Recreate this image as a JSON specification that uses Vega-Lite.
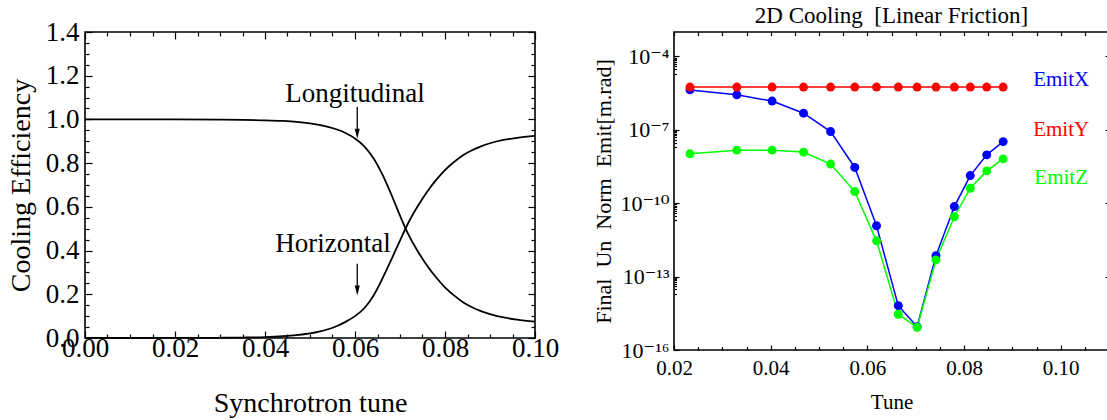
{
  "$schema": "https://vega.github.io/schema/vega-lite/v6.json",
  "background": "white",
  "padding": {"left": 6, "top": 4, "right": 0, "bottom": 0},
  "bounds": "flush",
  "spacing": 139,
  "config": {
    "font": "Liberation Serif",
    "view": {"stroke": "black", "strokeWidth": 1.6},
    "axis": {"grid": false, "domain": false, "tickColor": "black", "tickWidth": 1.2, "labelColor": "black", "titleColor": "black", "labelFont": "Liberation Serif", "titleFont": "Liberation Serif", "titleFontWeight": "normal", "labelOverlap": false, "labelFlush": false},
    "title": {"font": "Liberation Serif", "fontWeight": "normal", "color": "black"},
    "text": {"font": "Liberation Serif"}
  },
  "hconcat": [
    {
      "width": 450,
      "height": 306,
      "resolve": {"axis": {"x": "independent", "y": "independent"}},
      "layer": [
        {
          "data": {"values": [
            {"tune": 0.0, "value": 0.0, "curve": "Horizontal"},
            {"tune": 0.01, "value": 0.0, "curve": "Horizontal"},
            {"tune": 0.02, "value": 0.0002, "curve": "Horizontal"},
            {"tune": 0.03, "value": 0.001, "curve": "Horizontal"},
            {"tune": 0.035, "value": 0.002, "curve": "Horizontal"},
            {"tune": 0.04, "value": 0.004, "curve": "Horizontal"},
            {"tune": 0.044, "value": 0.008, "curve": "Horizontal"},
            {"tune": 0.047, "value": 0.013, "curve": "Horizontal"},
            {"tune": 0.05, "value": 0.021, "curve": "Horizontal"},
            {"tune": 0.052, "value": 0.029, "curve": "Horizontal"},
            {"tune": 0.054, "value": 0.04, "curve": "Horizontal"},
            {"tune": 0.056, "value": 0.055, "curve": "Horizontal"},
            {"tune": 0.058, "value": 0.075, "curve": "Horizontal"},
            {"tune": 0.06, "value": 0.1, "curve": "Horizontal"},
            {"tune": 0.062, "value": 0.135, "curve": "Horizontal"},
            {"tune": 0.064, "value": 0.19, "curve": "Horizontal"},
            {"tune": 0.066, "value": 0.268, "curve": "Horizontal"},
            {"tune": 0.068, "value": 0.355, "curve": "Horizontal"},
            {"tune": 0.07, "value": 0.446, "curve": "Horizontal"},
            {"tune": 0.072, "value": 0.533, "curve": "Horizontal"},
            {"tune": 0.074, "value": 0.605, "curve": "Horizontal"},
            {"tune": 0.076, "value": 0.668, "curve": "Horizontal"},
            {"tune": 0.078, "value": 0.722, "curve": "Horizontal"},
            {"tune": 0.08, "value": 0.768, "curve": "Horizontal"},
            {"tune": 0.082, "value": 0.805, "curve": "Horizontal"},
            {"tune": 0.084, "value": 0.836, "curve": "Horizontal"},
            {"tune": 0.086, "value": 0.859, "curve": "Horizontal"},
            {"tune": 0.088, "value": 0.877, "curve": "Horizontal"},
            {"tune": 0.09, "value": 0.891, "curve": "Horizontal"},
            {"tune": 0.093, "value": 0.906, "curve": "Horizontal"},
            {"tune": 0.096, "value": 0.916, "curve": "Horizontal"},
            {"tune": 0.1, "value": 0.925, "curve": "Horizontal"},
            {"tune": 0.0, "value": 1.0, "curve": "Longitudinal"},
            {"tune": 0.01, "value": 1.0, "curve": "Longitudinal"},
            {"tune": 0.02, "value": 0.9998, "curve": "Longitudinal"},
            {"tune": 0.03, "value": 0.999, "curve": "Longitudinal"},
            {"tune": 0.035, "value": 0.998, "curve": "Longitudinal"},
            {"tune": 0.04, "value": 0.996, "curve": "Longitudinal"},
            {"tune": 0.044, "value": 0.993, "curve": "Longitudinal"},
            {"tune": 0.047, "value": 0.989, "curve": "Longitudinal"},
            {"tune": 0.05, "value": 0.982, "curve": "Longitudinal"},
            {"tune": 0.052, "value": 0.975, "curve": "Longitudinal"},
            {"tune": 0.054, "value": 0.966, "curve": "Longitudinal"},
            {"tune": 0.056, "value": 0.954, "curve": "Longitudinal"},
            {"tune": 0.058, "value": 0.937, "curve": "Longitudinal"},
            {"tune": 0.06, "value": 0.913, "curve": "Longitudinal"},
            {"tune": 0.062, "value": 0.878, "curve": "Longitudinal"},
            {"tune": 0.064, "value": 0.826, "curve": "Longitudinal"},
            {"tune": 0.066, "value": 0.752, "curve": "Longitudinal"},
            {"tune": 0.068, "value": 0.66, "curve": "Longitudinal"},
            {"tune": 0.07, "value": 0.56, "curve": "Longitudinal"},
            {"tune": 0.072, "value": 0.468, "curve": "Longitudinal"},
            {"tune": 0.074, "value": 0.395, "curve": "Longitudinal"},
            {"tune": 0.076, "value": 0.332, "curve": "Longitudinal"},
            {"tune": 0.078, "value": 0.278, "curve": "Longitudinal"},
            {"tune": 0.08, "value": 0.232, "curve": "Longitudinal"},
            {"tune": 0.082, "value": 0.195, "curve": "Longitudinal"},
            {"tune": 0.084, "value": 0.164, "curve": "Longitudinal"},
            {"tune": 0.086, "value": 0.141, "curve": "Longitudinal"},
            {"tune": 0.088, "value": 0.123, "curve": "Longitudinal"},
            {"tune": 0.09, "value": 0.109, "curve": "Longitudinal"},
            {"tune": 0.093, "value": 0.094, "curve": "Longitudinal"},
            {"tune": 0.096, "value": 0.084, "curve": "Longitudinal"},
            {"tune": 0.1, "value": 0.075, "curve": "Longitudinal"}
          ]},
          "mark": {"type": "line", "color": "black", "strokeWidth": 1.8, "interpolate": "monotone"},
          "encoding": {
            "x": {"field": "tune", "type": "quantitative", "scale": {"domain": [0, 0.1], "nice": false, "zero": false},
              "axis": {"orient": "bottom", "values": [0, 0.02, 0.04, 0.06, 0.08, 0.1], "format": ".2f", "labelFontSize": 27, "tickSize": -7, "labelPadding": 4.5, "title": "Synchrotron tune", "titleFontSize": 28, "titlePadding": 28}},
            "y": {"field": "value", "type": "quantitative", "scale": {"domain": [0, 1.4], "nice": false},
              "axis": {"orient": "left", "values": [0, 0.2, 0.4, 0.6, 0.8, 1.0, 1.2, 1.4], "format": ".1f", "labelFontSize": 27, "tickSize": -7, "labelPadding": 13, "title": "Cooling Efficiency", "titleFontSize": 28, "titlePadding": 10}},
            "detail": {"field": "curve", "type": "nominal"}
          }
        },
        {
          "data": {"values": [
            {"tune": 0.06, "value": 1.079, "label": "Longitudinal"},
            {"tune": 0.0551, "value": 0.393, "label": "Horizontal"}
          ]},
          "mark": {"type": "text", "fontSize": 27, "align": "center", "baseline": "alphabetic", "color": "black"},
          "encoding": {
            "x": {"field": "tune", "type": "quantitative", "scale": {"domain": [0, 0.1], "nice": false, "zero": false},
              "axis": {"orient": "bottom", "values": [0.005, 0.01, 0.015, 0.025, 0.03, 0.035, 0.045, 0.05, 0.055, 0.065, 0.07, 0.075, 0.085, 0.09, 0.095], "labels": false, "tickSize": -4, "title": null}},
            "y": {"field": "value", "type": "quantitative", "scale": {"domain": [0, 1.4], "nice": false},
              "axis": {"orient": "left", "values": [0.05, 0.1, 0.15, 0.25, 0.3, 0.35, 0.45, 0.5, 0.55, 0.65, 0.7, 0.75, 0.85, 0.9, 0.95, 1.05, 1.1, 1.15, 1.25, 1.3, 1.35], "labels": false, "tickSize": -4, "title": null}},
            "text": {"field": "label", "type": "nominal"}
          }
        },
        {
          "data": {"values": [
            {"tune": 0.0605, "top": 1.057, "tip": 0.95},
            {"tune": 0.0605, "top": 0.34, "tip": 0.232}
          ]},
          "mark": {"type": "rule", "color": "black", "strokeWidth": 1.3},
          "encoding": {
            "x": {"field": "tune", "type": "quantitative", "scale": {"domain": [0, 0.1], "nice": false, "zero": false},
              "axis": {"orient": "top", "values": [0, 0.02, 0.04, 0.06, 0.08, 0.1], "labels": false, "tickSize": -7, "title": null}},
            "y": {"field": "top", "type": "quantitative", "scale": {"domain": [0, 1.4], "nice": false},
              "axis": {"orient": "right", "values": [0, 0.2, 0.4, 0.6, 0.8, 1.0, 1.2, 1.4], "labels": false, "tickSize": -7, "title": null}},
            "y2": {"field": "tip"}
          }
        },
        {
          "data": {"values": [
            {"tune": 0.0605, "value": 0.912},
            {"tune": 0.0605, "value": 0.195}
          ]},
          "mark": {"type": "point", "shape": "M-0.25,-1L0.25,-1L0,0Z", "size": 400, "filled": true, "color": "black", "opacity": 1},
          "encoding": {
            "x": {"field": "tune", "type": "quantitative", "scale": {"domain": [0, 0.1], "nice": false, "zero": false},
              "axis": {"orient": "top", "values": [0.005, 0.01, 0.015, 0.025, 0.03, 0.035, 0.045, 0.05, 0.055, 0.065, 0.07, 0.075, 0.085, 0.09, 0.095], "labels": false, "tickSize": -4, "title": null}},
            "y": {"field": "value", "type": "quantitative", "scale": {"domain": [0, 1.4], "nice": false},
              "axis": {"orient": "right", "values": [0.05, 0.1, 0.15, 0.25, 0.3, 0.35, 0.45, 0.5, 0.55, 0.65, 0.7, 0.75, 0.85, 0.9, 0.95, 1.05, 1.1, 1.15, 1.25, 1.3, 1.35], "labels": false, "tickSize": -4, "title": null}}
          }
        }
      ]
    },
    {
      "width": 435,
      "height": 318,
      "title": {"text": "2D Cooling\u00a0 [Linear Friction]", "fontSize": 23, "baseline": "alphabetic", "offset": -15, "anchor": "middle", "frame": "group"},
      "resolve": {"axis": {"x": "independent", "y": "independent"}},
      "layer": [
        {
          "data": {"name": "emit"},
          "mark": {"type": "line", "strokeWidth": 1.5},
          "encoding": {
            "x": {"field": "tune", "type": "quantitative", "scale": {"domain": [0.02, 0.11], "nice": false, "zero": false},
              "axis": {"orient": "bottom", "values": [0.02, 0.04, 0.06, 0.08, 0.1], "format": ".2f", "labelFontSize": 21, "tickSize": -5, "labelPadding": 12.5, "title": "Tune", "titleFontSize": 21, "titlePadding": 13}},
            "y": {"field": "emit", "type": "quantitative", "scale": {"type": "log", "domain": [1e-16, 0.001], "nice": false},
              "axis": {"orient": "left", "values": [1e-16, 1e-13, 1e-10, 1e-7, 1e-4], "labelExpr": "datum.value < 1e-15 ? '10\u207b\u00b9\u2076' : datum.value < 1e-12 ? '10\u207b\u00b9\u00b3' : datum.value < 1e-9 ? '10\u207b\u00b9\u2070' : datum.value < 1e-6 ? '10\u207b\u2077' : '10\u207b\u2074'", "labelFont": "Liberation Serif, DejaVu Serif", "labelFontSize": 22, "tickSize": -5, "labelPadding": 10, "title": "Final\u00a0 Un\u00a0 Norm\u00a0 Emit[m.rad]", "titleFontSize": 22, "titlePadding": 4}},
            "color": {"field": "series", "type": "nominal", "scale": {"domain": ["EmitX", "EmitY", "EmitZ"], "range": ["#0000ff", "#ff0000", "#00ff00"]}, "legend": null}
          }
        },
        {
          "data": {"name": "emit"},
          "mark": {"type": "circle", "size": 80, "opacity": 1},
          "encoding": {
            "x": {"field": "tune", "type": "quantitative", "scale": {"domain": [0.02, 0.11], "nice": false, "zero": false},
              "axis": {"orient": "bottom", "values": [0.025, 0.03, 0.035, 0.045, 0.05, 0.055, 0.065, 0.07, 0.075, 0.085, 0.09, 0.095, 0.105], "labels": false, "tickSize": -3.5, "title": null}},
            "y": {"field": "emit", "type": "quantitative", "scale": {"type": "log", "domain": [1e-16, 0.001], "nice": false},
              "axis": {"orient": "left", "values": [2e-5, 3e-5, 4e-5, 5e-5, 6e-5, 7e-5, 8e-5, 9e-5, 2e-8, 3e-8, 4e-8, 5e-8, 6e-8, 7e-8, 8e-8, 9e-8, 2e-11, 3e-11, 4e-11, 5e-11, 6e-11, 7e-11, 8e-11, 9e-11, 2e-14, 3e-14, 4e-14, 5e-14, 6e-14, 7e-14, 8e-14, 9e-14], "labels": false, "tickSize": -2.5, "title": null}},
            "color": {"field": "series", "type": "nominal", "scale": {"domain": ["EmitX", "EmitY", "EmitZ"], "range": ["#0000ff", "#ff0000", "#00ff00"]}, "legend": null}
          }
        },
        {
          "data": {"values": [
            {"tune": 0.1001, "emit": 1.1e-5, "series": "EmitX"},
            {"tune": 0.1001, "emit": 1e-7, "series": "EmitY"},
            {"tune": 0.1001, "emit": 1.05e-9, "series": "EmitZ"}
          ]},
          "mark": {"type": "text", "fontSize": 21, "align": "center", "baseline": "middle"},
          "encoding": {
            "x": {"field": "tune", "type": "quantitative", "scale": {"domain": [0.02, 0.11], "nice": false, "zero": false},
              "axis": {"orient": "top", "values": [0.02, 0.025, 0.03, 0.035, 0.04, 0.045, 0.05, 0.055, 0.06, 0.065, 0.07, 0.075, 0.08, 0.085, 0.09, 0.095, 0.1, 0.105], "labels": false, "tickSize": -3.5, "title": null}},
            "y": {"field": "emit", "type": "quantitative", "scale": {"type": "log", "domain": [1e-16, 0.001], "nice": false},
              "axis": {"orient": "right", "values": [1e-13, 1e-10, 1e-7, 1e-4], "labels": false, "tickSize": -4, "title": null}},
            "text": {"field": "series", "type": "nominal"},
            "color": {"field": "series", "type": "nominal", "scale": {"domain": ["EmitX", "EmitY", "EmitZ"], "range": ["#0000ff", "#ff0000", "#00ff00"]}, "legend": null}
          }
        }
      ]
    }
  ],
  "datasets": {
    "emit": [
      {"tune": 0.0233, "emit": 4.3e-6, "series": "EmitX"},
      {"tune": 0.0330, "emit": 2.7e-6, "series": "EmitX"},
      {"tune": 0.0403, "emit": 1.5e-6, "series": "EmitX"},
      {"tune": 0.0468, "emit": 4.8e-7, "series": "EmitX"},
      {"tune": 0.0524, "emit": 8.5e-8, "series": "EmitX"},
      {"tune": 0.0574, "emit": 2.9e-9, "series": "EmitX"},
      {"tune": 0.0619, "emit": 1.2e-11, "series": "EmitX"},
      {"tune": 0.0664, "emit": 6.5e-15, "series": "EmitX"},
      {"tune": 0.0703, "emit": 8.9e-16, "series": "EmitX"},
      {"tune": 0.0742, "emit": 7.2e-13, "series": "EmitX"},
      {"tune": 0.0780, "emit": 7.3e-11, "series": "EmitX"},
      {"tune": 0.0813, "emit": 1.35e-9, "series": "EmitX"},
      {"tune": 0.0847, "emit": 9.5e-9, "series": "EmitX"},
      {"tune": 0.0881, "emit": 3.3e-8, "series": "EmitX"},
      {"tune": 0.0233, "emit": 1.05e-8, "series": "EmitZ"},
      {"tune": 0.0330, "emit": 1.48e-8, "series": "EmitZ"},
      {"tune": 0.0403, "emit": 1.48e-8, "series": "EmitZ"},
      {"tune": 0.0468, "emit": 1.23e-8, "series": "EmitZ"},
      {"tune": 0.0524, "emit": 4.0e-9, "series": "EmitZ"},
      {"tune": 0.0574, "emit": 3.0e-10, "series": "EmitZ"},
      {"tune": 0.0619, "emit": 2.9e-12, "series": "EmitZ"},
      {"tune": 0.0664, "emit": 2.9e-15, "series": "EmitZ"},
      {"tune": 0.0703, "emit": 8.5e-16, "series": "EmitZ"},
      {"tune": 0.0742, "emit": 4.8e-13, "series": "EmitZ"},
      {"tune": 0.0780, "emit": 2.8e-11, "series": "EmitZ"},
      {"tune": 0.0813, "emit": 4.1e-10, "series": "EmitZ"},
      {"tune": 0.0847, "emit": 2.1e-9, "series": "EmitZ"},
      {"tune": 0.0881, "emit": 6.5e-9, "series": "EmitZ"},
      {"tune": 0.0233, "emit": 5.6e-6, "series": "EmitY"},
      {"tune": 0.0330, "emit": 5.6e-6, "series": "EmitY"},
      {"tune": 0.0403, "emit": 5.6e-6, "series": "EmitY"},
      {"tune": 0.0468, "emit": 5.6e-6, "series": "EmitY"},
      {"tune": 0.0524, "emit": 5.6e-6, "series": "EmitY"},
      {"tune": 0.0574, "emit": 5.6e-6, "series": "EmitY"},
      {"tune": 0.0619, "emit": 5.6e-6, "series": "EmitY"},
      {"tune": 0.0664, "emit": 5.6e-6, "series": "EmitY"},
      {"tune": 0.0703, "emit": 5.6e-6, "series": "EmitY"},
      {"tune": 0.0742, "emit": 5.6e-6, "series": "EmitY"},
      {"tune": 0.0780, "emit": 5.6e-6, "series": "EmitY"},
      {"tune": 0.0813, "emit": 5.6e-6, "series": "EmitY"},
      {"tune": 0.0847, "emit": 5.6e-6, "series": "EmitY"},
      {"tune": 0.0881, "emit": 5.6e-6, "series": "EmitY"}
    ]
  }
}
